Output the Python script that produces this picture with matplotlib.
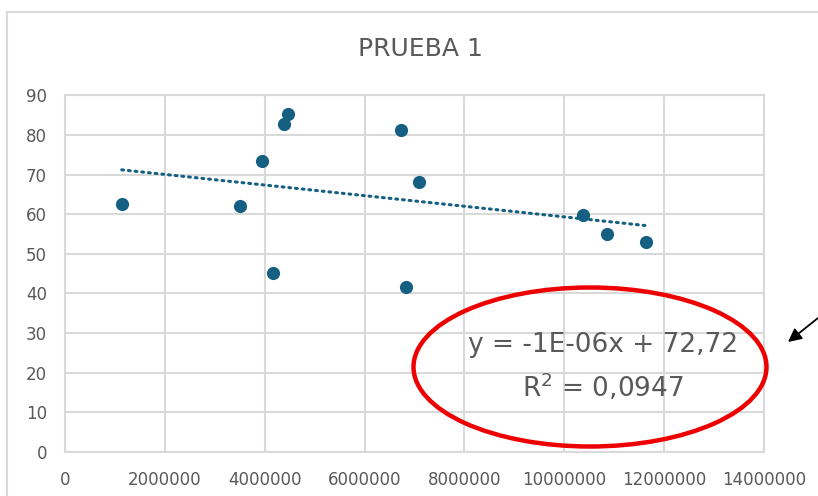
import matplotlib
matplotlib.use("Agg")
import matplotlib.pyplot as plt
from matplotlib.patches import Ellipse
from matplotlib.lines import Line2D
from matplotlib.ticker import FuncFormatter
import numpy as np

# Data
x_values = [1136000, 3500000, 3940000, 4390000, 4460000, 4160000,
            6720000, 7090000, 6830000, 10380000, 10860000, 11640000]
y_values = [62.6, 62.1, 73.3, 82.7, 85.3, 45.2,
            81.3, 68.0, 41.7, 59.8, 55.0, 53.1]

# Linear trendline
trend_slope = -1.34e-06
trend_intercept = 72.72
trend_r2 = 0.0947

title = "PRUEBA 1"
x_ticks = [0, 2000000, 4000000, 6000000, 8000000, 10000000, 12000000, 14000000]
y_ticks = [0, 10, 20, 30, 40, 50, 60, 70, 80, 90]

W, H = 818, 496
fig = plt.figure(figsize=(W / 100, H / 100), dpi=100)
fig.patch.set_facecolor("white")
plt.rcParams["font.family"] = ["DejaVu Sans"]

text_gray = "#595959"
grid_gray = "#d9d9d9"
marker_col = "#156082"

# Chart area border (left and top edges)
fig.add_artist(Line2D([7 / W, 7 / W], [0, 1 - 12 / H], transform=fig.transFigure,
                      color=grid_gray, lw=1.5))
fig.add_artist(Line2D([7 / W, 1], [1 - 12 / H, 1 - 12 / H], transform=fig.transFigure,
                      color=grid_gray, lw=1.5))

left, right, top, bottom = 65, 764, 95.3, 452
ax = fig.add_axes([left / W, 1 - bottom / H, (right - left) / W, (bottom - top) / H])
ax.set_xlim(0, 14000000)
ax.set_ylim(0, 90)
ax.set_xticks(x_ticks)
ax.set_yticks(y_ticks)
ax.xaxis.set_major_formatter(FuncFormatter(lambda v, p: f"{int(v)}"))
ax.yaxis.set_major_formatter(FuncFormatter(lambda v, p: f"{int(v)}"))
ax.grid(True, color=grid_gray, lw=1.5)
ax.set_axisbelow(True)
for s in ax.spines.values():
    s.set_color(grid_gray)
    s.set_linewidth(1.5)
ax.tick_params(length=0, labelsize=12, colors=text_gray)
ax.tick_params(axis="x", pad=14)
ax.tick_params(axis="y", pad=13)

ax.scatter(x_values, y_values, s=90, color=marker_col, zorder=3, linewidths=0)

xt = np.array([min(x_values), max(x_values)])
ax.plot(xt, trend_slope * xt + trend_intercept, color=marker_col, lw=2.2,
        linestyle=(0, (0.6, 1.6)), dash_capstyle="round", zorder=2)

fig.text(420 / W, 1 - 49 / H, title, ha="center", va="center",
         fontsize=18, color=text_gray)

eq = f"y = {trend_slope:.0E}x + {trend_intercept:.2f}".replace(".", ",")
fig.text(603 / W, 1 - 345 / H, eq, ha="center", va="center", fontsize=19, color=text_gray)
fig.text(603 / W, 1 - 387 / H, f"R$^2$ = {trend_r2:.4f}".replace(".", ","),
         ha="center", va="center", fontsize=19, color=text_gray)

# Highlight ellipse and pointer arrow
fig.add_artist(Ellipse((590 / W, 1 - 367 / H), 353 / W, 159 / H,
                       transform=fig.transFigure, fill=False, edgecolor="#ee0000", lw=3.2))
fig.add_artist(plt.Annotation("", xy=(788 / W, 1 - 342 / H), xytext=(1.0, 1 - 318 / H),
                              xycoords="figure fraction", textcoords="figure fraction",
                              arrowprops=dict(arrowstyle="-|>", color="black", lw=1.3,
                                              mutation_scale=20, shrinkA=0, shrinkB=0)))

fig.savefig("out.png", dpi=100)
